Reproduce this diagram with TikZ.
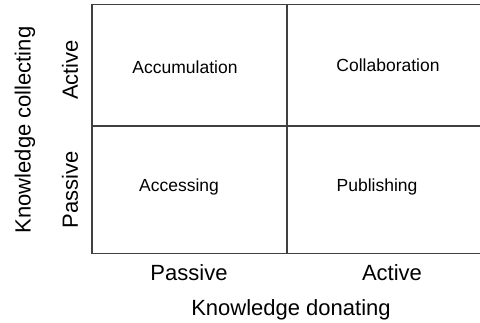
\documentclass[tikz,border=0pt]{standalone}
\usepackage{fontspec}
\setmainfont{Liberation Sans}
\tikzstyle{cell}=[inner sep=0pt, font=\fontsize{17.5}{20}\selectfont]
\tikzstyle{axis}=[inner sep=0pt, font=\fontsize{22}{26}\selectfont]
\tikzstyle{grid}=[draw=black!75, line width=1.2pt]
\newcommand{\cell}{\node[cell]}

\begin{document}
\begin{tikzpicture}[x=1pt, y=-1pt]
\useasboundingbox (0,0) rectangle (480,323);
%grid
\coordinate (tl) at (92,4.5);
\coordinate (tr) at (481,4.5);
\coordinate (bl) at (92,253.5);
\coordinate (br) at (481,253.5);
\draw[grid] (tr) -- (tl) -- (bl) -- (br);
\draw[grid] (287,4.5) -- (287,253.5);
\draw[grid] (92,126) -- (481,126);
%cells
\cell (accu) at (185,67){Accumulation};
\cell (coll) at (388,65){Collaboration};
\cell (acce) at (179,187){Accessing};
\cell (publ) at (377,187){Publishing};
%axes
\node[axis] (xpas) at (189,273){Passive};
\node[axis] (xact) at (392,273){Active};
\node[axis] (xlab) at (291,310){Knowledge donating};
\node[axis, rotate=90] (yact) at (70,70){Active};
\node[axis, rotate=90] (ypas) at (70,190){Passive};
\node[axis, rotate=90] (ylab) at (25,130){Knowledge collecting};
\end{tikzpicture}
\end{document}
